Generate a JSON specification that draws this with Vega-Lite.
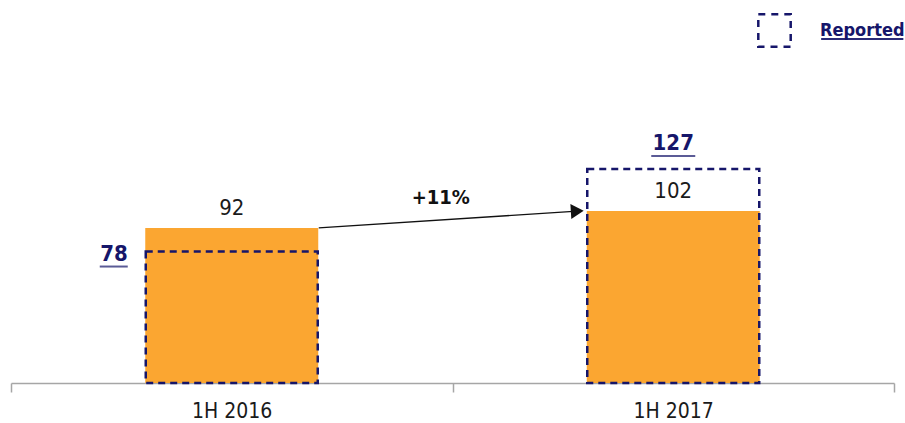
{
  "$schema": "https://vega.github.io/schema/vega-lite/v6.json",
  "autosize": "none",
  "width": 883,
  "height": 300,
  "padding": {"left": 11, "top": 83, "right": 11, "bottom": 40},
  "background": "white",
  "config": {"view": {"stroke": null}, "font": "DejaVu Sans Condensed"},
  "data": {"values": [
    {"period": "1H 2016", "value": 92, "reported": 78},
    {"period": "1H 2017", "value": 102, "reported": 127}
  ]},
  "encoding": {
    "x": {"field": "period", "type": "nominal", "sort": null,
      "scale": {"paddingInner": 0, "paddingOuter": 0},
      "axis": {"title": null, "labelAngle": 0, "domainColor": "#a6a6a6", "domainWidth": 1.5,
        "tickColor": "#a6a6a6", "tickWidth": 1.5, "tickSize": 9, "tickBand": "extent",
        "labelFont": "DejaVu Sans Condensed", "labelFontSize": 21, "labelColor": "#1a1a1a",
        "labelPadding": 8}}
  },
  "layer": [
    {
      "mark": {"type": "bar", "size": 173, "color": "#FBA631"},
      "encoding": {"y": {"field": "value", "type": "quantitative", "scale": {"domain": [0, 178], "nice": false, "zero": true}, "axis": null}}
    },
    {
      "mark": {"type": "bar", "size": 172, "filled": false, "strokeDash": [7, 5], "strokeWidth": 2.5},
      "encoding": {
        "y": {"field": "reported", "type": "quantitative"},
        "stroke": {"datum": "Reported", "type": "nominal",
          "scale": {"range": ["#16166a"]},
          "legend": {"title": null, "orient": "none", "legendX": 746, "legendY": -70,
            "symbolType": "square", "symbolSize": 1050, "symbolStrokeWidth": 2.5,
            "symbolDash": [7, 6], "symbolFillColor": "white", "symbolStrokeColor": "#16166a",
            "labelFont": "DejaVu Sans Condensed", "labelFontWeight": "bold", "labelFontSize": 18,
            "labelColor": "#16166a", "labelOffset": 28, "padding": 0}}
      }
    },
    {
      "mark": {"type": "tick", "size": 82, "thickness": 2, "xOffset": 189, "yOffset": -44, "color": "#16166a"},
      "encoding": {"x": {"datum": "1H 2017"}, "y": {"datum": 178}}
    },
    {
      "mark": {"type": "text", "baseline": "bottom", "dy": -8, "fontSize": 22, "color": "#1a1a1a", "font": "DejaVu Sans Condensed"},
      "encoding": {"y": {"field": "value", "type": "quantitative"}, "text": {"field": "value"}}
    },
    {
      "transform": [{"filter": "datum.period === '1H 2017'"}],
      "mark": {"type": "text", "baseline": "middle", "dy": -26, "fontSize": 22, "fontWeight": "bold", "color": "#16166a", "font": "DejaVu Sans Condensed"},
      "encoding": {"y": {"field": "reported", "type": "quantitative"}, "text": {"field": "reported"}}
    },
    {
      "transform": [{"filter": "datum.period === '1H 2017'"}],
      "mark": {"type": "tick", "size": 44, "thickness": 2, "yOffset": -13, "color": "#16166a"},
      "encoding": {"y": {"field": "reported", "type": "quantitative"}}
    },
    {
      "transform": [{"filter": "datum.period === '1H 2016'"}],
      "mark": {"type": "text", "baseline": "middle", "align": "right", "dx": -104, "dy": 2, "fontSize": 22, "fontWeight": "bold", "color": "#16166a", "font": "DejaVu Sans Condensed"},
      "encoding": {"y": {"field": "reported", "type": "quantitative"}, "text": {"field": "reported"}}
    },
    {
      "transform": [{"filter": "datum.period === '1H 2016'"}],
      "mark": {"type": "tick", "size": 28, "thickness": 2, "xOffset": -118, "yOffset": 15, "color": "#16166a"},
      "encoding": {"y": {"field": "reported", "type": "quantitative"}}
    },
    {
      "data": {"values": [{"from": "1H 2016", "to": "1H 2017", "v0": 92, "v1": 102, "label": "+11%"}]},
      "layer": [
        {
          "mark": {"type": "rule", "color": "#111", "strokeWidth": 1.3, "xOffset": 87, "x2Offset": -96},
          "encoding": {"x": {"field": "from", "type": "nominal"}, "x2": {"field": "to"}, "y": {"field": "v0", "type": "quantitative"}, "y2": {"field": "v1"}}
        },
        {
          "mark": {"type": "point", "shape": "triangle-right", "filled": true, "size": 220, "color": "#111", "opacity": 1, "xOffset": -96, "angle": -3.7},
          "encoding": {"x": {"field": "to", "type": "nominal"}, "y": {"field": "v1", "type": "quantitative"}}
        },
        {
          "mark": {"type": "text", "fontSize": 20, "fontWeight": "bold", "color": "#111", "dx": 209, "dy": -30, "font": "DejaVu Sans Condensed"},
          "encoding": {"x": {"field": "from", "type": "nominal"}, "y": {"field": "v0", "type": "quantitative"}, "text": {"field": "label"}}
        }
      ]
    }
  ]
}
